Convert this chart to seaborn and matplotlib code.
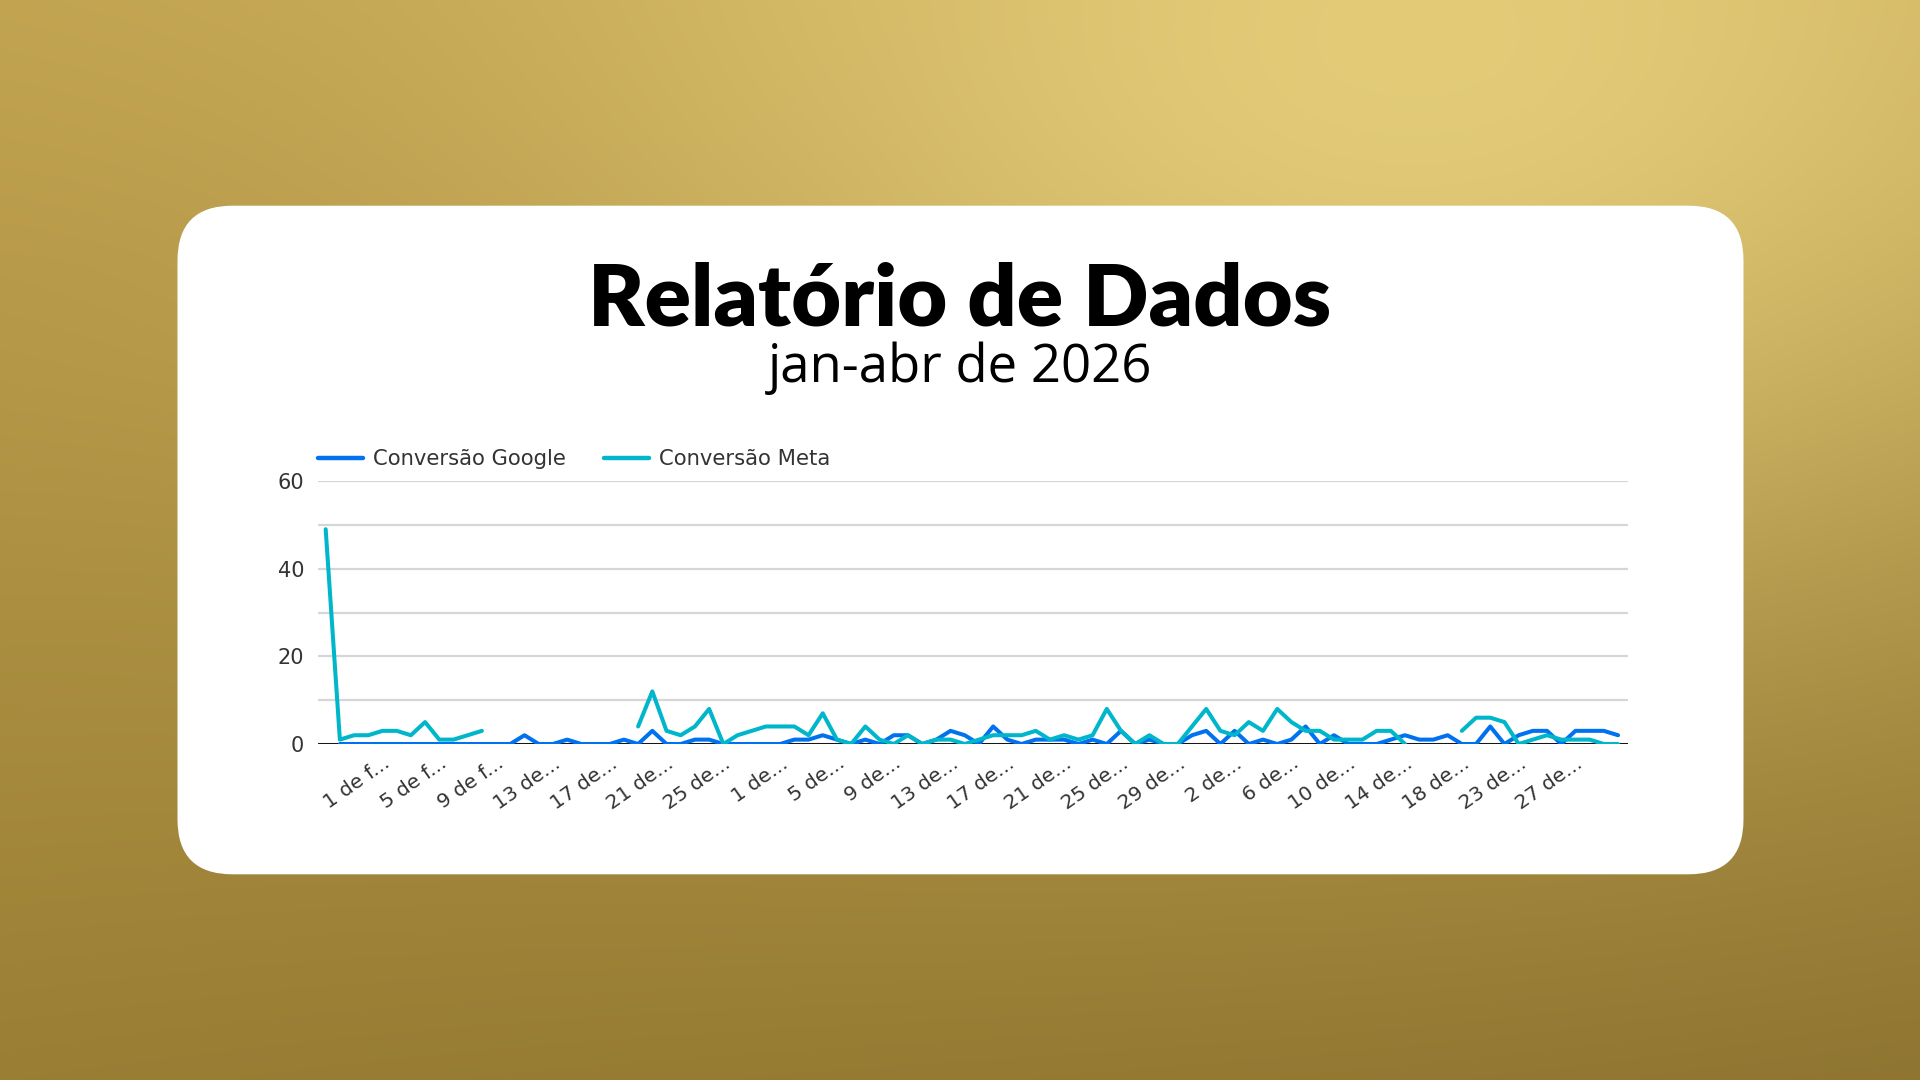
import numpy as np
import pandas as pd
import matplotlib
matplotlib.use("Agg")
import matplotlib.pyplot as plt
from matplotlib.patches import FancyBboxPatch
import seaborn as sns

# =========================================
# DATA (conversões diárias, jan-abr 2026)
# =========================================
dates = pd.date_range("2026-01-28", "2026-04-30")
dates = dates[dates != pd.Timestamp("2026-04-20")]   # dia sem registro

google = [np.nan, 0, 0, 0, 0, 0, 0, 0, 0, 0, 0, 0, 0, 0, 2, 0, 0, 1, 0, 0,
          0, 1, 0, 3, 0, 0, 1, 1, 0, 0, 0, 0, 0, 1, 1, 2, 1, 0, 1, 0,
          2, 2, 0, 1, 3, 2, 0, 4, 1, 0, 1, 1, 1, 0, 1, 0, 3, 0, 1, 0,
          0, 2, 3, 0, 3, 0, 1, 0, 1, 4, 0, 2, 0, 0, 0, 1, 2, 1, 1, 2,
          0, 0, 4, 0, 2, 3, 3, 0, 3, 3, 3, 2]

meta = [49, 1, 2, 2, 3, 3, 2, 5, 1, 1, 2, 3, np.nan, np.nan, np.nan, np.nan,
        np.nan, np.nan, np.nan, np.nan, np.nan, np.nan, 4, 12, 3, 2, 4, 8, 0, 2,
        3, 4, 4, 4, 2, 7, 1, 0, 4, 1, 0, 2, 0, 1, 1, 0, 1, 2, 2, 2,
        3, 1, 2, 1, 2, 8, 3, 0, 2, 0, 0, 4, 8, 3, 2, 5, 3, 8, 5, 3,
        3, 1, 1, 1, 3, 3, 0, np.nan, np.nan, np.nan, 3, 6, 6, 5, 0, 1, 2, 1,
        1, 1, 0, 0]

series_names = ["Conversão Google", "Conversão Meta"]
series_colors = ["#0072f0", "#00b6cb"]

tick_pos = list(range(4, 92, 4))
tick_labels = ["1 de f...", "5 de f...", "9 de f...", "13 de...", "17 de...",
               "21 de...", "25 de...", "1 de...", "5 de...", "9 de...",
               "13 de...", "17 de...", "21 de...", "25 de...", "29 de...",
               "2 de...", "6 de...", "10 de...", "14 de...", "18 de...",
               "23 de...", "27 de..."]

# long format, com id de segmento para manter as falhas (NaN) como quebras
frames = []
for name, vals in zip(series_names, [google, meta]):
    s = pd.Series(vals, dtype=float)
    seg = s.isna().cumsum()
    d = pd.DataFrame({"idx": np.arange(len(s)), "valor": s, "serie": name,
                      "seg": name + seg.astype(str)})
    frames.append(d.dropna())
df = pd.concat(frames, ignore_index=True)

# =========================================
# FIGURE
# =========================================
sns.set_theme(style="white")
plt.rcParams["font.family"] = ["DejaVu Sans"]

W, H = 1920, 1080
fig = plt.figure(figsize=(W / 100, H / 100), dpi=100)

# fundo dourado
bg = fig.add_axes([0, 0, 1, 1])
yy, xx = np.mgrid[0:1:270j, 0:1:480j]
top = np.array([0xc0, 0xa2, 0x4f]) / 255
bottom = np.array([0x9a, 0x7e, 0x34]) / 255
hi = np.array([0xea, 0xd3, 0x80]) / 255
base = top[None, None, :] * (1 - yy[..., None]) + bottom[None, None, :] * yy[..., None]
light = np.exp(-(((xx - 0.74) / 0.42) ** 2 + ((yy - 0.08) / 0.48) ** 2))[..., None]
img = base + light * (hi - base) * 0.85
img = img * (1 - 0.08 * (xx * yy)[..., None])
bg.imshow(np.clip(img, 0, 1), extent=[0, W, H, 0], aspect="auto", interpolation="bicubic")
bg.set_xlim(0, W)
bg.set_ylim(H, 0)
bg.axis("off")

card = FancyBboxPatch((177.5, 205.7), 1566, 668.6,
                      boxstyle="round,pad=0,rounding_size=55",
                      fc="white", ec="none")
bg.add_patch(card)

bg.text(960, 325, "Relatório de Dados", ha="center", va="baseline",
        fontsize=62, fontweight="heavy", color="black",
        family=["Lato", "DejaVu Sans"])
bg.text(960, 382, "jan-abr de 2026", ha="center", va="baseline",
        fontsize=38, color="black", family=["Open Sans", "DejaVu Sans"])

# gráfico de linhas
ax = fig.add_axes([318 / W, 1 - 744 / H, 1310 / W, 263 / H])
ax.set_facecolor("white")
ax.set_yticks([10, 30, 50], minor=True)
ax.grid(True, axis="y", which="both", color="#d6d6d6", lw=1.6)
ax.grid(False, axis="x")
ax.axhline(0, color="black", lw=2, zorder=1)

sns.lineplot(data=df, x="idx", y="valor", hue="serie", units="seg",
             estimator=None, palette=dict(zip(series_names, series_colors)),
             hue_order=series_names, lw=2.9, ax=ax, zorder=3)

ax.set_xlim(-0.54, 91.7)
ax.set_ylim(0, 60)
ax.set_yticks([0, 20, 40, 60])
ax.set_xticks(tick_pos)
ax.set_xticklabels(tick_labels, rotation=35, ha="right", rotation_mode="anchor")
ax.tick_params(axis="x", length=0, pad=7, labelsize=14.5, colors="#333333")
ax.tick_params(axis="y", which="both", length=0, pad=10, labelsize=15, colors="#333333")
ax.set_xlabel("")
ax.set_ylabel("")
sns.despine(ax=ax, left=True, bottom=True)

handles, labels = ax.get_legend_handles_labels()
ax.legend(handles[:2], labels[:2], loc="center left", bbox_to_anchor=(0, 1.084),
          ncol=2, frameon=False, fontsize=15.2, handlelength=2.15,
          handletextpad=0.45, columnspacing=1.8, borderaxespad=0, borderpad=0,
          labelcolor="#333333")
for line in ax.get_legend().get_lines():
    line.set_linewidth(3.2)

fig.savefig("out.png", dpi=100)
